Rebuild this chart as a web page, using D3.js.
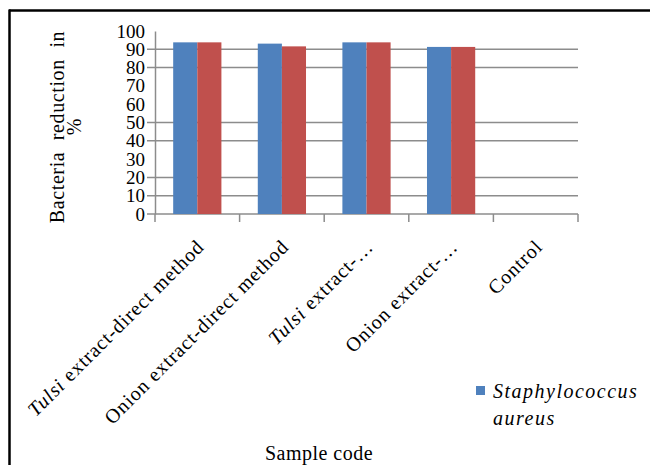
<!DOCTYPE html>
<html>
<head>
<meta charset="utf-8">
<script src="https://cdn.jsdelivr.net/npm/d3@7"></script>
<style>
  html, body { margin: 0; padding: 0; background: #fff; }
  svg { display: block; font-family: "Liberation Serif", "Times New Roman", serif; }
</style>
</head>
<body>
<svg id="chart" width="650" height="465"></svg>
<script>
// Sample categories (first word may be italic, e.g. Tulsi)
const categories = [
  "Tulsi extract-direct method",
  "Onion extract-direct method",
  "Tulsi extract-…",
  "Onion extract-…",
  "Control"
];
const seriesNames = ["Staphylococcus aureus", "Series 2"];
const staphValues = [93.8, 93.1, 93.8, 91.3, 0];
const series2Values = [93.8, 91.6, 93.8, 91.3, 0];
const yTicks = [0, 10, 20, 30, 40, 50, 60, 70, 80, 90, 100];
const gridValues = [10, 20, 40, 50, 80, 90];
const colors = ["#4F81BD", "#C0504D"];

const svg = d3.select("#chart");

// frame lines (top and left)
svg.append("line").attr("x1", 9).attr("x2", 650).attr("y1", 10.5).attr("y2", 10.5)
  .attr("stroke", "#000").attr("stroke-width", 2.5);
svg.append("line").attr("x1", 9.5).attr("x2", 9.5).attr("y1", 9.5).attr("y2", 465)
  .attr("stroke", "#000").attr("stroke-width", 2.5);

const plot = { left: 155, right: 578, top: 31, bottom: 214 };

const x0 = d3.scaleBand().domain(categories).range([plot.left, plot.right])
  .paddingInner(0.43).paddingOuter(0.215);
const x1 = d3.scaleBand().domain(seriesNames).range([0, x0.bandwidth()]);
const y = d3.scaleLinear().domain([0, 100]).range([plot.bottom, plot.top]);

const gridColor = "#8c8c8c";

// horizontal gridlines
svg.append("g").selectAll("line").data(gridValues).join("line")
  .attr("x1", plot.left - 8).attr("x2", plot.right)
  .attr("y1", d => y(d)).attr("y2", d => y(d))
  .attr("stroke", gridColor).attr("stroke-width", 1.5);

// y axis
const yAxis = svg.append("g").attr("transform", `translate(${plot.left},0)`)
  .call(d3.axisLeft(y).tickValues(yTicks).tickSize(0).tickPadding(10));
yAxis.select(".domain").attr("stroke", gridColor).attr("stroke-width", 1.5);
yAxis.selectAll("text").attr("font-size", 19).attr("fill", "#000")
  .attr("font-family", "Liberation Serif");

// x axis line and ticks
svg.append("line").attr("x1", plot.left - 8).attr("x2", plot.right)
  .attr("y1", y(0)).attr("y2", y(0)).attr("stroke", gridColor).attr("stroke-width", 1.5);
const boundaries = categories.map(c => x0(c) - x0.step() * x0.paddingInner() / 2);
boundaries.push(plot.right);
svg.append("g").selectAll("line").data(boundaries).join("line")
  .attr("x1", d => d).attr("x2", d => d)
  .attr("y1", y(0)).attr("y2", y(0) + 8)
  .attr("stroke", gridColor).attr("stroke-width", 1.5);

// bars
const rows = categories.map((c, i) => ({ cat: c, vals: [staphValues[i], series2Values[i]] }));
svg.append("g").selectAll("g").data(rows).join("g")
  .attr("transform", d => `translate(${x0(d.cat)},0)`)
  .selectAll("rect").data(d => d.vals.map((v, j) => ({ name: seriesNames[j], v, j })))
  .join("rect")
  .attr("x", d => x1(d.name)).attr("width", x1.bandwidth())
  .attr("y", d => y(d.v)).attr("height", d => y(0) - y(d.v))
  .attr("fill", d => colors[d.j]);

// rotated category labels
const labels = svg.append("g").selectAll("text").data(categories).join("text")
  .attr("transform", d => `translate(${x0(d) + x0.bandwidth() / 2 + 8},248) rotate(-45)`)
  .attr("text-anchor", "end").attr("font-size", 20).attr("letter-spacing", 0.9);
labels.each(function(d) {
  const t = d3.select(this);
  if (d.startsWith("Tulsi")) {
    t.append("tspan").attr("font-style", "italic").text("Tulsi");
    t.append("tspan").text(d.slice(5));
  } else {
    t.text(d);
  }
});

// y axis title
const yTitle = svg.append("text").attr("transform", "translate(64,127) rotate(-90)")
  .attr("text-anchor", "middle").attr("font-size", 20);
yTitle.append("tspan").attr("x", 0).attr("dy", 0).attr("word-spacing", 6).attr("letter-spacing", 0.6)
  .text("Bacteria reduction in");
yTitle.append("tspan").attr("x", 0).attr("dy", 17).text("%");

// x axis title
svg.append("text").attr("x", 319).attr("y", 460).attr("text-anchor", "middle")
  .attr("font-size", 20).attr("letter-spacing", 0.5).text("Sample code");

// legend
svg.append("rect").attr("x", 476).attr("y", 386).attr("width", 9).attr("height", 9)
  .attr("fill", colors[0]);
const leg = svg.append("text").attr("font-size", 20).attr("font-style", "italic")
  .attr("letter-spacing", 1.5);
leg.append("tspan").attr("x", 493).attr("y", 398).text("Staphylococcus");
leg.append("tspan").attr("x", 493).attr("y", 425).text("aureus");
</script>
</body>
</html>
